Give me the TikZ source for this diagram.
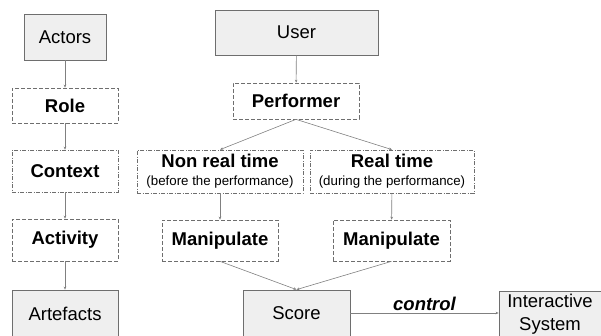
\documentclass[tikz,border=0pt]{standalone}
\usepackage{fontspec}
\setmainfont{Liberation Sans}
\usetikzlibrary{arrows.meta}
\definecolor{boxline}{HTML}{6E6E6E}
\definecolor{boxfill}{HTML}{EFEFEF}
\definecolor{conn}{HTML}{808080}
\tikzset{
  solidbox/.style={draw=boxline, line width=0.8pt, fill=boxfill, inner sep=0pt, align=center,
    font=\fontsize{18.5}{23}\selectfont},
  dashbox/.style={draw=boxline, line width=0.7pt, inner sep=0pt, align=center,
    dash pattern=on 4pt off 2pt, font=\fontsize{18.5}{23}\selectfont\bfseries},
  dotbox/.style={dashbox, dash pattern=on 4pt off 1.5pt on 1pt off 1.5pt},
  conline/.style={draw=conn, line width=0.6pt, -{Stealth[length=3pt,width=2.6pt]}}
}
\begin{document}
\begin{tikzpicture}[x=1pt,y=-1pt]
\useasboundingbox (0,0) rectangle (601,335);
% left column
\node[solidbox, minimum width=82pt, minimum height=46pt] (actors) at (65,37) {Actors};
\node[dashbox, minimum width=106pt, minimum height=35pt] (role) at (65,105.5) {Role};
\node[dotbox, minimum width=106pt, minimum height=42pt] (context) at (65,171) {Context};
\node[dashbox, minimum width=106pt, minimum height=42pt] (activity) at (65,240) {Activity};
\node[solidbox, minimum width=106pt, minimum height=47pt] (artefacts) at (65,313.5) {Artefacts};
% right part
\node[solidbox, minimum width=163pt, minimum height=45pt] (user) at (296.5,32.5) {User};
\node[dashbox, minimum width=126pt, minimum height=36pt] (performer) at (296,101) {Performer};
\node[dotbox, minimum width=166pt, minimum height=43pt] (nrt) at (220,171.5)
  {Non real time\\[-5pt]{\fontsize{13.3}{15}\selectfont\mdseries (before the performance)}};
\node[dotbox, minimum width=164pt, minimum height=43pt] (rt) at (392,171.5)
  {Real time\\[-5pt]{\fontsize{13.3}{15}\selectfont\mdseries (during the performance)}};
\node[dashbox, minimum width=116pt, minimum height=41pt] (manl) at (220,240.5) {Manipulate};
\node[dashbox, minimum width=117pt, minimum height=41pt] (manr) at (391.5,240.5) {Manipulate};
\node[solidbox, minimum width=107pt, minimum height=47pt] (score) at (296.5,313.5) {Score};
\node[solidbox, minimum width=102pt, minimum height=47pt] (inter) at (550,314.5) {Interactive\\System};
% connectors
\draw[conline] (actors) -- (role);
\draw[conline] (role) -- (context);
\draw[conline] (context) -- (activity);
\draw[conline] (activity) -- (artefacts);
\draw[conline] (user) -- (performer);
\draw[conline] (performer.south) -- (nrt.north);
\draw[conline] (performer.south) -- (rt.north);
\draw[conline] (nrt) -- (manl);
\draw[conline] (rt) -- (manr);
\draw[conline] (manl.south) -- (score.north);
\draw[conline] (manr.south) -- (score.north);
\draw[conline] (score.east |- 0,313) -- node[above=-1.5pt, font=\fontsize{18.5}{22}\selectfont\bfseries\itshape] (ctl) {control} (inter.west |- 0,313);
\end{tikzpicture}
\end{document}
